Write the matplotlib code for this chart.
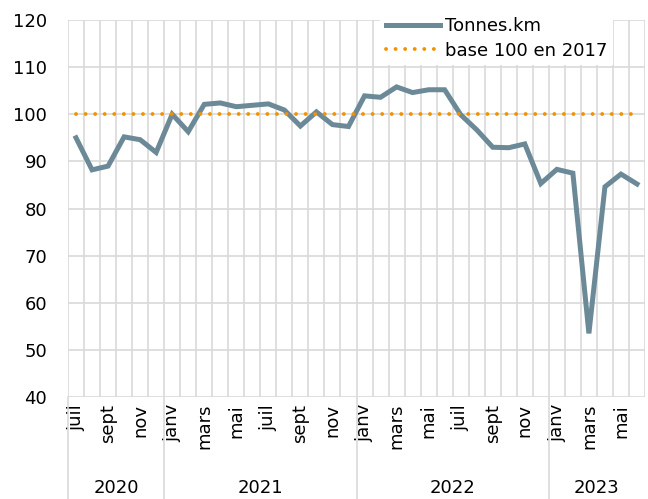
import numpy as np
import matplotlib
matplotlib.use("Agg")
import matplotlib.pyplot as plt
import matplotlib.transforms as mtransforms

# --- data (juil 2020 -> juin 2023, base 100 en 2017) ---
months = ["juil", "août", "sept", "oct", "nov", "déc",
          "janv", "févr", "mars", "avr", "mai", "juin", "juil", "août", "sept", "oct", "nov", "déc",
          "janv", "févr", "mars", "avr", "mai", "juin", "juil", "août", "sept", "oct", "nov", "déc",
          "janv", "févr", "mars", "avr", "mai", "juin"]
years = ["2020", "2021", "2022", "2023"]
months_per_year = [6, 12, 12, 6]
tonnes_km = [95.0, 88.2, 89.0, 95.2, 94.6, 91.9,
             100.0, 96.3, 102.1, 102.4, 101.6, 101.9, 102.2, 100.9, 97.5, 100.5, 97.8, 97.4,
             103.9, 103.6, 105.8, 104.6, 105.2, 105.2, 99.9, 96.7, 93.0, 92.9, 93.7, 85.3,
             88.3, 87.5, 53.5, 84.6, 87.3, 85.2]
base_2017 = [100] * len(tonnes_km)

LINE_COL = "#6B8997"
ORANGE = "#F39200"
GRID = "#D9D9D9"
FS = 13

plt.rcParams['font.family'] = ['DejaVu Sans']
fig = plt.figure(figsize=(6.48, 4.99), dpi=100)
ax = fig.add_axes([68 / 648, 102 / 499, 577 / 648, 377 / 499])

x = np.arange(len(tonnes_km))
ax.plot(x, tonnes_km, color=LINE_COL, lw=3.6, solid_joinstyle='miter', label="Tonnes.km", zorder=3)
ax.plot(x, base_2017, color=ORANGE, lw=2.8, ls=(0, (0.01, 2.45)), dash_capstyle='round',
        label="base 100 en 2017", zorder=4)

ax.set_xlim(-0.5, len(x) - 0.5)
ax.set_ylim(40, 120)
ax.set_yticks(np.arange(40, 121, 10))
ax.tick_params(axis='y', length=0, pad=15, labelsize=FS)

# month labels every other month, gridlines at month boundaries
ax.set_xticks(x[::2])
ax.set_xticklabels(months[::2], rotation=90, fontsize=FS, va='top')
ax.tick_params(axis='x', length=0, pad=5)
ax.set_xticks(np.arange(-0.5, len(x), 1), minor=True)
ax.tick_params(axis='x', which='minor', length=0)
ax.grid(True, which='minor', axis='x', color=GRID, lw=1.2)
ax.grid(True, which='major', axis='y', color=GRID, lw=1.2)
ax.set_axisbelow(True)
for s in ax.spines.values():
    s.set_visible(False)

# year level below months
trans = mtransforms.blended_transform_factory(ax.transData, ax.transAxes)
start = 0
bounds = [-0.5]
for yr, n in zip(years, months_per_year):
    ax.text(start + (n - 1) / 2, -0.241, yr, transform=trans, ha='center', va='center', fontsize=FS)
    start += n
    bounds.append(start - 0.5)
for b in bounds[:-1]:
    ax.plot([b, b], [0, -0.28], transform=trans, color=GRID, lw=1.2, clip_on=False)

leg = ax.legend(loc='upper right', bbox_to_anchor=(622 / 648, 1 - 3 / 499), bbox_transform=fig.transFigure,
                fontsize=FS, frameon=True, fancybox=False, framealpha=1, edgecolor='none',
                handlelength=3.0, handletextpad=0.3, borderpad=0.3, labelspacing=0.35)
leg.set_zorder(10)

fig.savefig("out.png", dpi=100)
